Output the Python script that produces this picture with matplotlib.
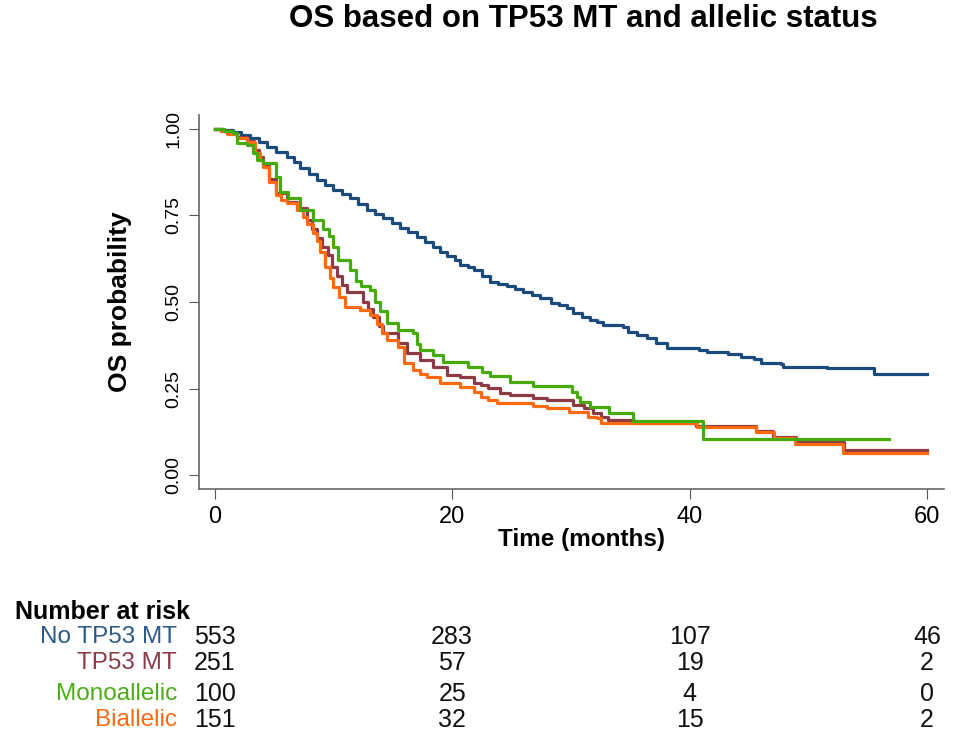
import matplotlib
matplotlib.use("Agg")
import matplotlib.pyplot as plt
from matplotlib.transforms import blended_transform_factory

plt.rcParams["font.family"] = ["Liberation Sans", "DejaVu Sans"]

# Kaplan-Meier step readings (months, survival probability)
no_tp53_t = [0, 0.8, 1.5, 2.2, 3.0, 3.7, 4.4, 5.2, 6.1, 6.7, 7.2, 7.9, 8.6, 9.3,
             10.0, 10.7, 11.4, 12.1, 12.8, 13.5, 14.2, 14.9, 15.6, 16.3, 17.0,
             17.7, 18.4, 19.0, 19.6, 20.2, 20.7, 21.3, 21.8, 22.5, 23.2, 23.9,
             24.6, 25.3, 26.0, 26.7, 27.4, 28.3, 29.0, 29.7, 30.2, 30.9, 31.6,
             32.2, 32.7, 34.4, 34.8, 35.6, 36.4, 37.2, 38.1, 40.8, 41.5, 43.2,
             44.3, 45.4, 46.0, 47.7, 47.9, 51.6, 55.5]
no_tp53_s = [1.0, 0.996, 0.991, 0.983, 0.974, 0.962, 0.948, 0.934, 0.919, 0.903,
             0.887, 0.870, 0.853, 0.838, 0.824, 0.812, 0.801, 0.784, 0.766, 0.755,
             0.743, 0.728, 0.714, 0.701, 0.688, 0.673, 0.659, 0.645, 0.632, 0.620,
             0.607, 0.600, 0.592, 0.575, 0.558, 0.552, 0.546, 0.538, 0.529, 0.520,
             0.511, 0.497, 0.490, 0.483, 0.468, 0.458, 0.448, 0.441, 0.434, 0.428,
             0.413, 0.405, 0.396, 0.382, 0.367, 0.362, 0.356, 0.350, 0.341, 0.335,
             0.324, 0.321, 0.312, 0.309, 0.292]
no_tp53_end = 60.0

tp53_t = [0, 0.5, 1.0, 1.85, 2.7, 3.3, 3.7, 4.1, 4.6, 5.2, 6.1, 6.9, 7.8, 8.2,
          8.6, 9.0, 9.5, 9.9, 10.3, 10.7, 11.1, 12.5, 12.9, 13.3, 13.8, 14.2,
          15.4, 16.2, 17.3, 18.4, 19.6, 20.7, 21.8, 22.4, 23.0, 24.0, 24.9, 26.8,
          28.0, 30.2, 31.1, 31.9, 32.5, 33.1, 35.3, 40.5, 45.6, 47.0, 49.0, 53.0]
tp53_s = [1.0, 0.994, 0.988, 0.976, 0.965, 0.940, 0.920, 0.895, 0.855, 0.815,
          0.790, 0.770, 0.737, 0.710, 0.685, 0.660, 0.635, 0.600, 0.575, 0.550,
          0.529, 0.500, 0.480, 0.457, 0.430, 0.410, 0.382, 0.353, 0.332, 0.312,
          0.289, 0.283, 0.266, 0.260, 0.251, 0.237, 0.231, 0.223, 0.217, 0.202,
          0.194, 0.179, 0.168, 0.159, 0.150, 0.142, 0.127, 0.110, 0.095, 0.072]
tp53_end = 60.0

bi_t = [0, 0.5, 1.0, 1.85, 2.7, 3.4, 3.8, 4.1, 4.6, 5.2, 5.6, 6.1, 6.9, 7.4, 7.8,
        8.3, 8.6, 8.9, 9.3, 9.7, 10.0, 10.5, 11.0, 12.2, 13.1, 13.7, 14.1, 14.5,
        15.4, 15.9, 16.7, 17.3, 17.9, 19.0, 20.7, 21.8, 22.4, 23.0, 23.8, 26.8,
        28.0, 29.8, 31.4, 32.2, 32.5, 40.6, 45.6, 47.1, 48.9, 52.9]
bi_s = [1.0, 0.993, 0.986, 0.974, 0.963, 0.930, 0.910, 0.890, 0.847, 0.810,
        0.795, 0.786, 0.766, 0.745, 0.725, 0.700, 0.675, 0.645, 0.600, 0.570,
        0.543, 0.515, 0.486, 0.477, 0.462, 0.435, 0.410, 0.390, 0.370, 0.324,
        0.303, 0.293, 0.283, 0.266, 0.254, 0.240, 0.225, 0.217, 0.208, 0.200,
        0.194, 0.182, 0.168, 0.165, 0.150, 0.139, 0.124, 0.107, 0.090, 0.064]
bi_end = 60.0

mono_t = [0, 0.8, 1.5, 1.85, 2.7, 3.2, 3.6, 4.1, 5.2, 5.5, 6.2, 7.2, 8.3, 9.1,
          9.6, 10.0, 10.4, 11.4, 11.9, 12.3, 13.1, 13.5, 13.9, 14.5, 15.4, 16.7,
          17.0, 17.3, 18.4, 19.2, 21.3, 22.5, 23.2, 24.9, 26.8, 30.1, 30.5, 30.8,
          31.6, 33.2, 35.2, 41.1]
mono_s = [1.0, 0.995, 0.988, 0.960, 0.954, 0.930, 0.910, 0.900, 0.860, 0.818,
          0.800, 0.766, 0.737, 0.710, 0.690, 0.660, 0.620, 0.592, 0.560, 0.545,
          0.535, 0.500, 0.475, 0.440, 0.420, 0.410, 0.380, 0.360, 0.347, 0.327,
          0.312, 0.298, 0.286, 0.269, 0.257, 0.240, 0.225, 0.211, 0.197, 0.179,
          0.156, 0.104]
mono_end = 56.8

risk_times = [0, 20, 40, 60]
risk_labels = ["No TP53 MT", "TP53 MT", "Monoallelic", "Biallelic"]
risk_counts = [
    [553, 283, 107, 46],
    [251, 57, 19, 2],
    [100, 25, 4, 0],
    [151, 32, 15, 2],
]

blue = "#1b4a7c"
maroon = "#8c3a45"
green = "#46ab0a"
orange = "#ff6a10"
label_colors = ["#2b5a8c", "#8c3a45", "#4cae12", "#ff6a10"]

fig = plt.figure(figsize=(9.6, 7.37), dpi=100)
ax = fig.add_axes([0.207, 0.3365, 0.776, 0.5075])

curves = [
    (no_tp53_t, no_tp53_s, no_tp53_end, blue),
    (tp53_t, tp53_s, tp53_end, maroon),
    (bi_t, bi_s, bi_end, orange),
    (mono_t, mono_s, mono_end, green),
]
for t, s, end, c in curves:
    ax.step(t + [end], s + [s[-1]], where="post", color=c, lw=2.3)

ax.set_xlim(-1.35, 61.4)
ax.set_ylim(-0.04, 1.04)
ax.set_xticks([0, 20, 40, 60])
ax.set_yticks([0, 0.25, 0.5, 0.75, 1.0])
ax.set_yticklabels(["0.00", "0.25", "0.50", "0.75", "1.00"], rotation=90, va="center")
ax.tick_params(axis="x", labelsize=17, length=7, color="#555555", pad=5)
ax.tick_params(axis="y", labelsize=14, length=7, color="#555555", pad=5)
for side in ["top", "right"]:
    ax.spines[side].set_visible(False)
for side in ["left", "bottom"]:
    ax.spines[side].set_color("#666666")
    ax.spines[side].set_linewidth(1.2)

ax.set_xlabel("Time (months)", fontsize=17.5, fontweight="bold")
ax.xaxis.set_label_coords(0.514, -0.105)
ax.set_ylabel("OS probability", fontsize=19, fontweight="bold")
ax.yaxis.set_label_coords(-0.089, 0.5)

fig.text(583 / 960, 1 - 19 / 737, "OS based on TP53 MT and allelic status",
         ha="center", va="center", fontsize=22.5, fontweight="bold")

# number at risk table
fig.text(15 / 960, 1 - 612 / 737, "Number at risk", ha="left", va="center",
         fontsize=18, fontweight="bold")
row_y = [637, 663, 694, 720]
trans = blended_transform_factory(ax.transData, fig.transFigure)
for label, counts, yy, c in zip(risk_labels, risk_counts, row_y, label_colors):
    fig.text(177 / 960, 1 - yy / 737, label, ha="right", va="center",
             fontsize=17.5, color=c)
    for tm, n in zip(risk_times, counts):
        ax.text(tm, 1 - yy / 737, str(n), transform=trans, ha="center",
                va="center", fontsize=18, color="#111111")

fig.savefig("out.png", dpi=100)
